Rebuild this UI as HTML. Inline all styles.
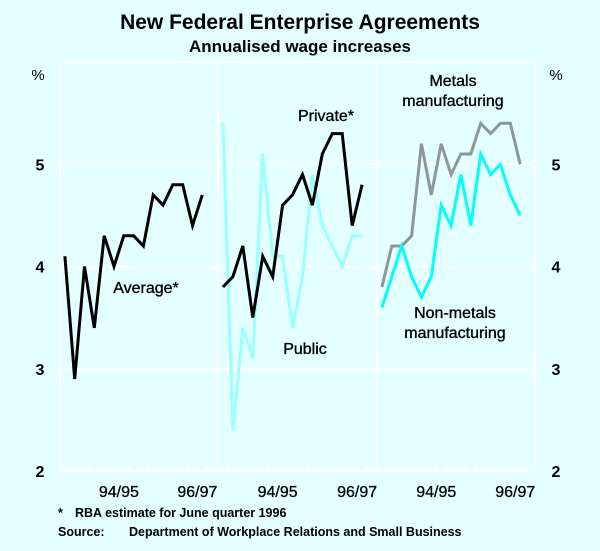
<!DOCTYPE html>
<html><head><meta charset="utf-8"><style>
html,body{margin:0;padding:0;background:#e4ffff;}
svg{display:block;font-family:"Liberation Sans",Arial,sans-serif;}
</style></head><body>
<svg id="chart" width="600" height="551" viewBox="0 0 600 551">
<rect width="600" height="551" fill="#e4ffff"/>
<text x="300" y="29" text-anchor="middle" font-size="21" font-weight="bold">New Federal Enterprise Agreements</text>
<text x="300" y="52" text-anchor="middle" font-size="17" font-weight="bold">Annualised wage increases</text>
<text x="38" y="80" text-anchor="middle" font-size="15">%</text>
<text x="556" y="80" text-anchor="middle" font-size="15">%</text>
<g id="grid"></g>
<g id="ticks"></g>
<g id="series"></g>
<g font-size="16" stroke="#000" stroke-width="0.35">
<text x="146" y="293" text-anchor="middle">Average*</text>
<text x="326" y="121" text-anchor="middle">Private*</text>
<text x="305" y="354" text-anchor="middle">Public</text>
<text x="453" y="86" text-anchor="middle">Metals</text>
<text x="453" y="106" text-anchor="middle">manufacturing</text>
<text x="455" y="318" text-anchor="middle">Non-metals</text>
<text x="455" y="338" text-anchor="middle">manufacturing</text>
</g>
<text x="58" y="517" font-size="12.5" font-weight="bold">*</text>
<text x="75" y="517" font-size="12.5" font-weight="bold">RBA estimate for June quarter 1996</text>
<text x="58" y="536" font-size="12.5" font-weight="bold">Source:</text>
<text x="129" y="536" font-size="12.5" font-weight="bold">Department of Workplace Relations and Small Business</text>
</svg>
<script>
const yTicks = [2,3,4,5];
const xLabels = ["94/95","96/97"];
const average = [4.1,2.9,4.0,3.4,4.3,4.0,4.3,4.3,4.2,4.7,4.6,4.8,4.8,4.4,4.7];
const privateSec = [3.8,3.9,4.2,3.5,4.1,3.9,4.6,4.7,4.9,4.6,5.1,5.3,5.3,4.4,4.8];
const publicSec = [5.4,2.4,3.4,3.1,5.1,4.1,4.1,3.4,3.9,4.9,4.4,4.2,4.0,4.3,4.3];
const metals = [3.8,4.2,4.2,4.3,5.2,4.7,5.2,4.9,5.1,5.1,5.4,5.3,5.4,5.4,5.0];
const nonMetals = [3.6,3.9,4.2,3.9,3.7,3.9,4.6,4.4,4.9,4.4,5.1,4.9,5.0,4.7,4.5];

const NS="http://www.w3.org/2000/svg";
const plotTop=62, plotBottom=471, ymin=2, ymax=6;
const panels=[[60,217],[218,377],[377,535]];
function yS(v){return plotBottom-(v-ymin)/(ymax-ymin)*(plotBottom-plotTop);}
function xS(p,i){const a=panels[p][0],b=panels[p][1];return a+(i+0.5)*(b-a)/16;}
function mk(tag,attrs,parent){const e=document.createElementNS(NS,tag);for(const k in attrs)e.setAttribute(k,attrs[k]);parent.appendChild(e);return e;}
const gridG=document.getElementById('grid'),ticksG=document.getElementById('ticks'),serG=document.getElementById('series');
const L=panels[0][0],R=panels[2][1];
yTicks.forEach(function(v){
  if(v>ymin){const g=mk('line',{x1:L,x2:R,y1:yS(v),y2:yS(v),stroke:'#fff','stroke-width':2},gridG);
  
  }
  const t1=mk('text',{x:40,y:yS(v)+6,'text-anchor':'middle','font-size':16,'font-weight':'bold'},ticksG);t1.textContent=v;
  
  
  const t2=mk('text',{x:556,y:yS(v)+6,'text-anchor':'middle','font-size':16,'font-weight':'bold'},ticksG);t2.textContent=v;
  
  
});
const fr=mk('rect',{x:L,y:plotTop,width:R-L,height:plotBottom-plotTop,fill:'none',stroke:'#fff','stroke-width':2},gridG);


panels.forEach(function(pp,p){
  if(p>0){const d=mk('line',{x1:pp[0],x2:pp[0],y1:plotTop,y2:plotBottom,stroke:'#fff','stroke-width':2},gridG);
  
  }
  const qw=(pp[1]-pp[0])/16;
  for(let k=1;k<16;k++){const tx=pp[0]+k*qw;const len=(k%4==0)?9:6;
    const t=mk('line',{x1:tx,x2:tx,y1:plotBottom,y2:plotBottom-len,stroke:'#fff','stroke-width':1.5},gridG);
    
    }
  xLabels.forEach(function(lab,j){
    const t=mk('text',{x:pp[0]+(6+8*j)*qw,y:497,'text-anchor':'middle','font-size':16,stroke:'#000','stroke-width':0.3},gridG);t.textContent=lab;
    
    });
});
function drawLine(p,data,color,name){
  const pts=data.map(function(v,i){return xS(p,i).toFixed(1)+','+yS(v).toFixed(1);}).join(' ');
  const e=mk('polyline',{points:pts,fill:'none',stroke:color,'stroke-width':3,'stroke-linejoin':'miter'},serG);
  
  
}
drawLine(0,average,'#000','average-line');
drawLine(1,publicSec,'#99ffff','public-line');
drawLine(1,privateSec,'#000','private-line');
drawLine(2,metals,'#8a9898','metals-line');
drawLine(2,nonMetals,'#00ffff','nonmetals-line');
</script>
</body></html>
